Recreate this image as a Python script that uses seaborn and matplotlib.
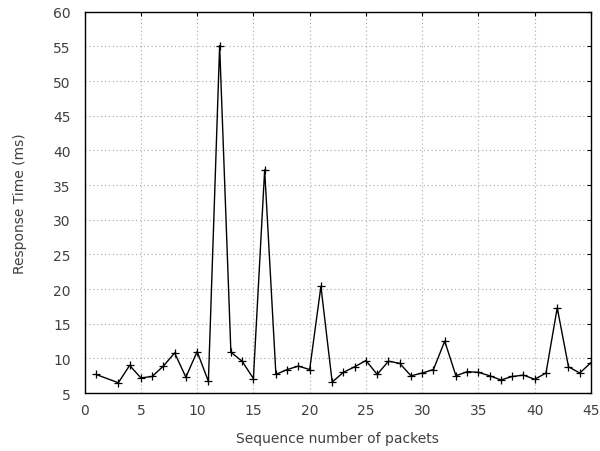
import seaborn as sns
import matplotlib.pyplot as plt
import pandas as pd

seq = [1, 3, 4, 5, 6, 7, 8, 9, 10, 11, 12, 13, 14, 15, 16, 17, 18, 19, 20, 21, 22, 23,
       24, 25, 26, 27, 28, 29, 30, 31, 32, 33, 34, 35, 36, 37, 38, 39, 40, 41, 42, 43, 44, 45]
resp = [7.7, 6.5, 9.0, 7.2, 7.4, 8.9, 10.8, 7.3, 11.0, 6.7, 55.1, 10.9, 9.6, 7.1, 37.2,
        7.7, 8.4, 8.9, 8.4, 20.4, 6.6, 8.0, 8.8, 9.7, 7.7, 9.6, 9.3, 7.5, 7.9, 8.4, 12.5,
        7.5, 8.1, 8.0, 7.5, 6.9, 7.4, 7.6, 7.0, 7.9, 17.3, 8.8, 7.9, 9.4]

df = pd.DataFrame({'seq': seq, 'resp': resp})

sns.set_style('white')
plt.rcParams['font.family'] = ['DejaVu Sans']

fig = plt.figure(figsize=(6, 4.52), dpi=100)
ax = fig.add_axes([0.141, 0.128, 0.844, 0.844])
sns.lineplot(x='seq', y='resp', data=df, color='black', linewidth=1,
             marker='+', markersize=6, markeredgewidth=0.9, markeredgecolor='black', ax=ax)

ax.set_xlim(0, 45)
ax.set_ylim(5, 60)
ax.set_xticks(range(0, 46, 5))
ax.set_yticks(range(5, 61, 5))
ax.grid(True, linestyle=(0, (1, 2.5)), color='#a8a8a8', linewidth=0.8)
for s in ax.spines.values():
    s.set_color('black')
    s.set_linewidth(1)
ax.tick_params(direction='in', length=3, width=0.8, top=True, right=True,
               labelsize=10, colors='black', labelcolor='#404040')
ax.tick_params(axis='y', pad=10)
ax.tick_params(axis='x', pad=7)
ax.set_xlabel('Sequence number of packets', fontsize=10, color='#404040', labelpad=10)
ax.set_ylabel('Response Time (ms)', fontsize=10, color='#404040', labelpad=19)

fig.savefig('out.png', dpi=100)
